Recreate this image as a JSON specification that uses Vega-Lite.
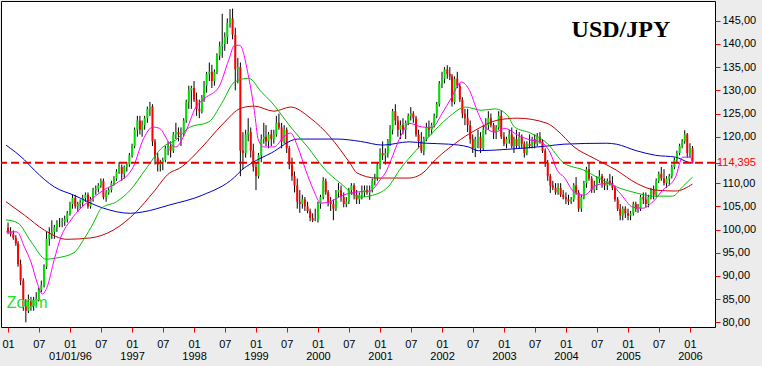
{
  "$schema": "https://vega.github.io/schema/vega-lite/v6.json",
  "width": 714,
  "height": 326,
  "autosize": {"type": "none"},
  "padding": {"left": 1, "top": 1, "right": 47, "bottom": 39},
  "background": "#ECECEC",
  "config": {
    "view": {"stroke": "#000000", "strokeWidth": 1, "fill": "#FFFFFF"},
    "axis": {"labelFont": "Liberation Sans", "labelFontSize": 11, "labelColor": "#000000", "grid": false, "domain": false, "labelOverlap": false, "labelBound": false, "labelFlush": false, "title": null}
  },
  "datasets": {
    "px": [
      {"t":"1995-01-01","o":100.4,"h":101.5,"l":99.0,"c":99.5},
      {"t":"1995-01-16","o":99.5,"h":100.5,"l":98.5,"c":99.0},
      {"t":"1995-02-01","o":99.0,"h":99.8,"l":97.8,"c":98.2},
      {"t":"1995-02-16","o":98.2,"h":98.8,"l":96.5,"c":97.0},
      {"t":"1995-03-01","o":97.0,"h":97.5,"l":92.0,"c":92.5},
      {"t":"1995-03-16","o":92.5,"h":93.5,"l":88.0,"c":89.0},
      {"t":"1995-04-01","o":89.0,"h":89.5,"l":82.5,"c":83.5},
      {"t":"1995-04-16","o":83.5,"h":85.0,"l":80.0,"c":82.5},
      {"t":"1995-05-01","o":82.5,"h":86.0,"l":82.0,"c":84.5},
      {"t":"1995-05-16","o":84.5,"h":85.5,"l":82.5,"c":83.5},
      {"t":"1995-06-01","o":83.5,"h":85.5,"l":82.5,"c":84.8},
      {"t":"1995-06-16","o":84.8,"h":86.5,"l":83.5,"c":85.0},
      {"t":"1995-07-01","o":85.0,"h":87.5,"l":84.5,"c":87.0},
      {"t":"1995-07-16","o":87.0,"h":89.0,"l":86.5,"c":88.0},
      {"t":"1995-08-01","o":88.0,"h":92.5,"l":87.5,"c":92.0},
      {"t":"1995-08-16","o":92.0,"h":99.5,"l":91.5,"c":98.0},
      {"t":"1995-09-01","o":98.0,"h":100.5,"l":96.5,"c":99.0},
      {"t":"1995-09-16","o":99.0,"h":102.0,"l":98.0,"c":99.5},
      {"t":"1995-10-01","o":99.5,"h":101.0,"l":98.0,"c":100.5},
      {"t":"1995-10-16","o":100.5,"h":102.0,"l":99.5,"c":101.5},
      {"t":"1995-11-01","o":101.5,"h":102.5,"l":100.5,"c":101.5},
      {"t":"1995-11-16","o":101.5,"h":102.5,"l":100.5,"c":101.8},
      {"t":"1995-12-01","o":101.8,"h":103.0,"l":100.8,"c":102.2},
      {"t":"1995-12-16","o":102.2,"h":104.0,"l":101.5,"c":103.5},
      {"t":"1996-01-01","o":103.5,"h":106.0,"l":103.0,"c":105.5},
      {"t":"1996-01-16","o":105.5,"h":107.5,"l":104.5,"c":106.8},
      {"t":"1996-02-01","o":106.8,"h":107.5,"l":104.5,"c":105.0},
      {"t":"1996-02-16","o":105.0,"h":106.0,"l":103.8,"c":105.5},
      {"t":"1996-03-01","o":105.5,"h":106.5,"l":104.5,"c":105.8},
      {"t":"1996-03-16","o":105.8,"h":107.5,"l":105.0,"c":106.8},
      {"t":"1996-04-01","o":106.8,"h":108.0,"l":106.0,"c":107.5},
      {"t":"1996-04-16","o":107.5,"h":108.0,"l":104.5,"c":105.0},
      {"t":"1996-05-01","o":105.0,"h":107.0,"l":104.5,"c":106.5},
      {"t":"1996-05-16","o":106.5,"h":109.0,"l":106.0,"c":108.5},
      {"t":"1996-06-01","o":108.5,"h":109.5,"l":107.5,"c":108.8},
      {"t":"1996-06-16","o":108.8,"h":110.0,"l":108.0,"c":109.5},
      {"t":"1996-07-01","o":109.5,"h":111.0,"l":109.0,"c":110.5},
      {"t":"1996-07-16","o":110.5,"h":111.0,"l":106.5,"c":107.0},
      {"t":"1996-08-01","o":107.0,"h":108.5,"l":106.0,"c":108.0},
      {"t":"1996-08-16","o":108.0,"h":109.0,"l":107.5,"c":108.5},
      {"t":"1996-09-01","o":108.5,"h":110.5,"l":108.0,"c":110.0},
      {"t":"1996-09-16","o":110.0,"h":111.5,"l":109.5,"c":111.0},
      {"t":"1996-10-01","o":111.0,"h":113.0,"l":110.5,"c":112.5},
      {"t":"1996-10-16","o":112.5,"h":114.5,"l":112.0,"c":113.5},
      {"t":"1996-11-01","o":113.5,"h":114.0,"l":110.5,"c":112.0},
      {"t":"1996-11-16","o":112.0,"h":113.8,"l":111.0,"c":113.5},
      {"t":"1996-12-01","o":113.5,"h":114.5,"l":112.5,"c":114.0},
      {"t":"1996-12-16","o":114.0,"h":116.5,"l":113.5,"c":116.0},
      {"t":"1997-01-01","o":116.0,"h":118.5,"l":115.5,"c":118.0},
      {"t":"1997-01-16","o":118.0,"h":122.0,"l":117.5,"c":121.5},
      {"t":"1997-02-01","o":121.5,"h":124.5,"l":120.0,"c":123.5},
      {"t":"1997-02-16","o":123.5,"h":124.5,"l":120.5,"c":121.5},
      {"t":"1997-03-01","o":121.5,"h":123.5,"l":120.0,"c":122.5},
      {"t":"1997-03-16","o":122.5,"h":124.5,"l":121.5,"c":124.0},
      {"t":"1997-04-01","o":124.0,"h":126.5,"l":123.0,"c":126.0},
      {"t":"1997-04-16","o":126.0,"h":127.5,"l":124.5,"c":126.5},
      {"t":"1997-05-01","o":126.5,"h":127.0,"l":118.0,"c":119.0},
      {"t":"1997-05-16","o":119.0,"h":119.5,"l":114.0,"c":115.5},
      {"t":"1997-06-01","o":115.5,"h":116.5,"l":112.5,"c":114.0},
      {"t":"1997-06-16","o":114.0,"h":115.0,"l":112.5,"c":114.5},
      {"t":"1997-07-01","o":114.5,"h":115.5,"l":112.8,"c":115.0},
      {"t":"1997-07-16","o":115.0,"h":118.0,"l":114.5,"c":117.5},
      {"t":"1997-08-01","o":117.5,"h":119.0,"l":116.0,"c":118.0},
      {"t":"1997-08-16","o":118.0,"h":119.0,"l":115.5,"c":117.0},
      {"t":"1997-09-01","o":117.0,"h":121.0,"l":116.5,"c":120.5},
      {"t":"1997-09-16","o":120.5,"h":123.0,"l":119.5,"c":121.0},
      {"t":"1997-10-01","o":121.0,"h":122.0,"l":119.0,"c":120.5},
      {"t":"1997-10-16","o":120.5,"h":122.0,"l":118.0,"c":120.5},
      {"t":"1997-11-01","o":120.5,"h":124.0,"l":120.0,"c":123.5},
      {"t":"1997-11-16","o":123.5,"h":128.0,"l":123.0,"c":127.5},
      {"t":"1997-12-01","o":127.5,"h":131.0,"l":126.0,"c":130.0},
      {"t":"1997-12-16","o":130.0,"h":131.0,"l":126.0,"c":130.5},
      {"t":"1998-01-01","o":130.5,"h":132.0,"l":127.5,"c":128.0},
      {"t":"1998-01-16","o":128.0,"h":129.5,"l":124.5,"c":126.0},
      {"t":"1998-02-01","o":126.0,"h":128.0,"l":124.0,"c":125.5},
      {"t":"1998-02-16","o":125.5,"h":129.0,"l":125.0,"c":128.5},
      {"t":"1998-03-01","o":128.5,"h":132.0,"l":127.5,"c":131.0},
      {"t":"1998-03-16","o":131.0,"h":134.0,"l":129.5,"c":133.5},
      {"t":"1998-04-01","o":133.5,"h":136.0,"l":132.0,"c":134.0},
      {"t":"1998-04-16","o":134.0,"h":135.5,"l":130.5,"c":132.0},
      {"t":"1998-05-01","o":132.0,"h":134.5,"l":131.0,"c":134.0},
      {"t":"1998-05-16","o":134.0,"h":138.0,"l":133.5,"c":137.5},
      {"t":"1998-06-01","o":137.5,"h":140.5,"l":136.5,"c":139.5},
      {"t":"1998-06-16","o":139.5,"h":146.5,"l":137.0,"c":140.0},
      {"t":"1998-07-01","o":140.0,"h":142.5,"l":138.5,"c":141.5},
      {"t":"1998-07-16","o":141.5,"h":145.5,"l":140.0,"c":144.5},
      {"t":"1998-08-01","o":144.5,"h":147.5,"l":143.5,"c":145.5},
      {"t":"1998-08-16","o":145.5,"h":147.6,"l":141.0,"c":142.0},
      {"t":"1998-09-01","o":142.0,"h":143.5,"l":130.0,"c":134.5},
      {"t":"1998-09-16","o":134.5,"h":137.0,"l":131.5,"c":135.0},
      {"t":"1998-10-01","o":135.0,"h":136.0,"l":111.5,"c":117.0},
      {"t":"1998-10-16","o":117.0,"h":121.0,"l":113.0,"c":116.5},
      {"t":"1998-11-01","o":116.5,"h":121.5,"l":115.5,"c":120.5},
      {"t":"1998-11-16","o":120.5,"h":124.0,"l":119.0,"c":121.0},
      {"t":"1998-12-01","o":121.0,"h":122.0,"l":115.5,"c":117.0},
      {"t":"1998-12-16","o":117.0,"h":118.5,"l":112.5,"c":113.5},
      {"t":"1999-01-01","o":113.5,"h":114.5,"l":108.5,"c":111.5},
      {"t":"1999-01-16","o":111.5,"h":116.5,"l":111.0,"c":116.0},
      {"t":"1999-02-01","o":116.0,"h":120.5,"l":114.5,"c":119.5},
      {"t":"1999-02-16","o":119.5,"h":123.0,"l":118.5,"c":120.0},
      {"t":"1999-03-01","o":120.0,"h":122.5,"l":118.0,"c":119.0},
      {"t":"1999-03-16","o":119.0,"h":121.0,"l":117.5,"c":120.5},
      {"t":"1999-04-01","o":120.5,"h":121.5,"l":118.0,"c":119.5},
      {"t":"1999-04-16","o":119.5,"h":121.5,"l":118.5,"c":120.5},
      {"t":"1999-05-01","o":120.5,"h":124.5,"l":120.0,"c":123.0},
      {"t":"1999-05-16","o":123.0,"h":125.0,"l":121.5,"c":122.0},
      {"t":"1999-06-01","o":122.0,"h":123.0,"l":117.5,"c":119.0},
      {"t":"1999-06-16","o":119.0,"h":122.5,"l":118.5,"c":121.5},
      {"t":"1999-07-01","o":121.5,"h":122.0,"l":116.5,"c":117.5},
      {"t":"1999-07-16","o":117.5,"h":118.0,"l":113.0,"c":114.0},
      {"t":"1999-08-01","o":114.0,"h":115.5,"l":110.5,"c":111.5},
      {"t":"1999-08-16","o":111.5,"h":112.5,"l":108.0,"c":109.5},
      {"t":"1999-09-01","o":109.5,"h":111.0,"l":104.5,"c":106.0},
      {"t":"1999-09-16","o":106.0,"h":108.5,"l":103.6,"c":105.5},
      {"t":"1999-10-01","o":105.5,"h":107.5,"l":104.5,"c":106.5},
      {"t":"1999-10-16","o":106.5,"h":107.0,"l":104.0,"c":105.0},
      {"t":"1999-11-01","o":105.0,"h":106.0,"l":103.5,"c":104.0},
      {"t":"1999-11-16","o":104.0,"h":104.5,"l":101.8,"c":102.5},
      {"t":"1999-12-01","o":102.5,"h":103.5,"l":101.6,"c":102.0},
      {"t":"1999-12-16","o":102.0,"h":104.5,"l":101.8,"c":102.2},
      {"t":"2000-01-01","o":102.2,"h":106.0,"l":101.5,"c":105.5},
      {"t":"2000-01-16","o":105.5,"h":107.5,"l":104.5,"c":107.0},
      {"t":"2000-02-01","o":107.0,"h":111.3,"l":106.5,"c":110.5},
      {"t":"2000-02-16","o":110.5,"h":111.0,"l":107.5,"c":108.0},
      {"t":"2000-03-01","o":108.0,"h":108.5,"l":105.0,"c":106.0},
      {"t":"2000-03-16","o":106.0,"h":107.0,"l":104.0,"c":105.5},
      {"t":"2000-04-01","o":105.5,"h":106.5,"l":102.0,"c":104.5},
      {"t":"2000-04-16","o":104.5,"h":108.5,"l":104.0,"c":108.0},
      {"t":"2000-05-01","o":108.0,"h":110.0,"l":107.0,"c":108.5},
      {"t":"2000-05-16","o":108.5,"h":109.5,"l":106.0,"c":107.0},
      {"t":"2000-06-01","o":107.0,"h":108.0,"l":104.8,"c":105.5},
      {"t":"2000-06-16","o":105.5,"h":107.0,"l":104.8,"c":106.0},
      {"t":"2000-07-01","o":106.0,"h":109.0,"l":105.5,"c":108.5},
      {"t":"2000-07-16","o":108.5,"h":110.0,"l":107.5,"c":109.5},
      {"t":"2000-08-01","o":109.5,"h":110.0,"l":106.5,"c":107.5},
      {"t":"2000-08-16","o":107.5,"h":108.5,"l":105.5,"c":106.5},
      {"t":"2000-09-01","o":106.5,"h":108.0,"l":105.5,"c":107.5},
      {"t":"2000-09-16","o":107.5,"h":109.5,"l":106.5,"c":108.0},
      {"t":"2000-10-01","o":108.0,"h":109.5,"l":107.0,"c":108.5},
      {"t":"2000-10-16","o":108.5,"h":109.5,"l":107.5,"c":108.0},
      {"t":"2000-11-01","o":108.0,"h":109.5,"l":106.4,"c":108.5},
      {"t":"2000-11-16","o":108.5,"h":111.0,"l":108.0,"c":110.5},
      {"t":"2000-12-01","o":110.5,"h":112.0,"l":109.5,"c":111.0},
      {"t":"2000-12-16","o":111.0,"h":114.5,"l":110.5,"c":114.0},
      {"t":"2001-01-01","o":114.0,"h":117.5,"l":113.0,"c":116.5},
      {"t":"2001-01-16","o":116.5,"h":119.0,"l":115.0,"c":116.0},
      {"t":"2001-02-01","o":116.0,"h":117.5,"l":114.0,"c":116.5},
      {"t":"2001-02-16","o":116.5,"h":119.5,"l":115.5,"c":119.0},
      {"t":"2001-03-01","o":119.0,"h":122.5,"l":118.0,"c":121.5},
      {"t":"2001-03-16","o":121.5,"h":126.0,"l":120.5,"c":125.5},
      {"t":"2001-04-01","o":125.5,"h":127.0,"l":122.5,"c":123.5},
      {"t":"2001-04-16","o":123.5,"h":124.5,"l":120.0,"c":121.5},
      {"t":"2001-05-01","o":121.5,"h":123.5,"l":119.5,"c":122.5},
      {"t":"2001-05-16","o":122.5,"h":124.0,"l":120.5,"c":121.5},
      {"t":"2001-06-01","o":121.5,"h":123.5,"l":119.5,"c":123.0},
      {"t":"2001-06-16","o":123.0,"h":125.0,"l":122.5,"c":124.5},
      {"t":"2001-07-01","o":124.5,"h":126.4,"l":123.5,"c":125.0},
      {"t":"2001-07-16","o":125.0,"h":125.5,"l":123.0,"c":124.0},
      {"t":"2001-08-01","o":124.0,"h":124.5,"l":120.0,"c":120.5},
      {"t":"2001-08-16","o":120.5,"h":121.5,"l":117.5,"c":119.0},
      {"t":"2001-09-01","o":119.0,"h":121.0,"l":116.5,"c":117.0},
      {"t":"2001-09-16","o":117.0,"h":120.0,"l":116.0,"c":119.5},
      {"t":"2001-10-01","o":119.5,"h":123.0,"l":119.0,"c":122.0},
      {"t":"2001-10-16","o":122.0,"h":123.5,"l":120.0,"c":121.5},
      {"t":"2001-11-01","o":121.5,"h":123.0,"l":120.5,"c":122.5},
      {"t":"2001-11-16","o":122.5,"h":125.0,"l":122.0,"c":124.5},
      {"t":"2001-12-01","o":124.5,"h":127.5,"l":124.0,"c":127.0},
      {"t":"2001-12-16","o":127.0,"h":132.0,"l":126.5,"c":131.5},
      {"t":"2002-01-01","o":131.5,"h":134.0,"l":130.5,"c":132.5},
      {"t":"2002-01-16","o":132.5,"h":135.0,"l":131.5,"c":134.5},
      {"t":"2002-02-01","o":134.5,"h":135.4,"l":132.5,"c":133.5},
      {"t":"2002-02-16","o":133.5,"h":135.0,"l":132.2,"c":133.0},
      {"t":"2002-03-01","o":133.0,"h":133.5,"l":126.5,"c":127.5},
      {"t":"2002-03-16","o":127.5,"h":133.0,"l":127.0,"c":132.5},
      {"t":"2002-04-01","o":132.5,"h":134.0,"l":130.5,"c":131.0},
      {"t":"2002-04-16","o":131.0,"h":131.5,"l":127.5,"c":128.0},
      {"t":"2002-05-01","o":128.0,"h":128.5,"l":124.0,"c":125.0},
      {"t":"2002-05-16","o":125.0,"h":126.0,"l":122.5,"c":124.0},
      {"t":"2002-06-01","o":124.0,"h":126.0,"l":121.0,"c":122.5},
      {"t":"2002-06-16","o":122.5,"h":123.5,"l":118.5,"c":119.5},
      {"t":"2002-07-01","o":119.5,"h":120.5,"l":116.5,"c":117.5},
      {"t":"2002-07-16","o":117.5,"h":120.0,"l":115.6,"c":119.5},
      {"t":"2002-08-01","o":119.5,"h":121.5,"l":117.5,"c":120.0},
      {"t":"2002-08-16","o":120.0,"h":121.0,"l":116.5,"c":117.5},
      {"t":"2002-09-01","o":117.5,"h":122.5,"l":117.0,"c":121.5},
      {"t":"2002-09-16","o":121.5,"h":124.0,"l":120.5,"c":122.5},
      {"t":"2002-10-01","o":122.5,"h":125.5,"l":121.5,"c":124.0},
      {"t":"2002-10-16","o":124.0,"h":125.0,"l":122.0,"c":122.5},
      {"t":"2002-11-01","o":122.5,"h":123.0,"l":119.5,"c":121.0},
      {"t":"2002-11-16","o":121.0,"h":122.5,"l":119.5,"c":122.0},
      {"t":"2002-12-01","o":122.0,"h":125.5,"l":121.5,"c":124.5},
      {"t":"2002-12-16","o":124.5,"h":125.7,"l":119.5,"c":120.0},
      {"t":"2003-01-01","o":120.0,"h":121.0,"l":118.0,"c":118.5},
      {"t":"2003-01-16","o":118.5,"h":120.0,"l":117.5,"c":119.5},
      {"t":"2003-02-01","o":119.5,"h":121.5,"l":118.5,"c":120.5},
      {"t":"2003-02-16","o":120.5,"h":122.0,"l":117.5,"c":118.0},
      {"t":"2003-03-01","o":118.0,"h":120.0,"l":116.5,"c":119.5},
      {"t":"2003-03-16","o":119.5,"h":121.5,"l":117.5,"c":118.0},
      {"t":"2003-04-01","o":118.0,"h":121.0,"l":117.5,"c":120.0},
      {"t":"2003-04-16","o":120.0,"h":120.5,"l":117.5,"c":118.5},
      {"t":"2003-05-01","o":118.5,"h":119.0,"l":115.5,"c":116.5},
      {"t":"2003-05-16","o":116.5,"h":119.0,"l":116.0,"c":118.5},
      {"t":"2003-06-01","o":118.5,"h":120.5,"l":117.5,"c":118.0},
      {"t":"2003-06-16","o":118.0,"h":120.0,"l":117.5,"c":119.5},
      {"t":"2003-07-01","o":119.5,"h":120.5,"l":117.5,"c":118.5},
      {"t":"2003-07-16","o":118.5,"h":120.8,"l":118.0,"c":120.0},
      {"t":"2003-08-01","o":120.0,"h":121.0,"l":118.5,"c":119.0},
      {"t":"2003-08-16","o":119.0,"h":119.5,"l":116.5,"c":117.0},
      {"t":"2003-09-01","o":117.0,"h":117.5,"l":113.5,"c":114.5},
      {"t":"2003-09-16","o":114.5,"h":115.0,"l":110.5,"c":111.5},
      {"t":"2003-10-01","o":111.5,"h":112.0,"l":107.9,"c":109.5},
      {"t":"2003-10-16","o":109.5,"h":110.5,"l":108.5,"c":109.0},
      {"t":"2003-11-01","o":109.0,"h":110.0,"l":107.5,"c":108.0},
      {"t":"2003-11-16","o":108.0,"h":110.0,"l":107.5,"c":109.0},
      {"t":"2003-12-01","o":109.0,"h":110.0,"l":107.0,"c":107.5},
      {"t":"2003-12-16","o":107.5,"h":108.5,"l":106.5,"c":107.0},
      {"t":"2004-01-01","o":107.0,"h":108.0,"l":105.5,"c":106.5},
      {"t":"2004-01-16","o":106.5,"h":107.5,"l":105.3,"c":106.0},
      {"t":"2004-02-01","o":106.0,"h":107.0,"l":105.5,"c":106.5},
      {"t":"2004-02-16","o":106.5,"h":110.0,"l":106.0,"c":109.5},
      {"t":"2004-03-01","o":109.5,"h":111.3,"l":107.5,"c":108.0},
      {"t":"2004-03-16","o":108.0,"h":108.5,"l":103.8,"c":104.5},
      {"t":"2004-04-01","o":104.5,"h":107.5,"l":103.8,"c":107.0},
      {"t":"2004-04-16","o":107.0,"h":110.5,"l":106.5,"c":110.0},
      {"t":"2004-05-01","o":110.0,"h":113.5,"l":109.0,"c":113.0},
      {"t":"2004-05-16","o":113.0,"h":114.5,"l":110.5,"c":111.0},
      {"t":"2004-06-01","o":111.0,"h":111.5,"l":107.9,"c":108.5},
      {"t":"2004-06-16","o":108.5,"h":110.5,"l":107.9,"c":109.5},
      {"t":"2004-07-01","o":109.5,"h":111.5,"l":108.5,"c":111.0},
      {"t":"2004-07-16","o":111.0,"h":112.8,"l":110.0,"c":111.5},
      {"t":"2004-08-01","o":111.5,"h":112.0,"l":109.0,"c":110.0},
      {"t":"2004-08-16","o":110.0,"h":111.0,"l":108.5,"c":109.5},
      {"t":"2004-09-01","o":109.5,"h":111.0,"l":108.5,"c":110.5},
      {"t":"2004-09-16","o":110.5,"h":112.0,"l":109.5,"c":110.0},
      {"t":"2004-10-01","o":110.0,"h":111.5,"l":108.5,"c":109.0},
      {"t":"2004-10-16","o":109.0,"h":109.5,"l":106.0,"c":106.5},
      {"t":"2004-11-01","o":106.5,"h":107.0,"l":104.0,"c":104.5},
      {"t":"2004-11-16","o":104.5,"h":105.5,"l":102.0,"c":103.0},
      {"t":"2004-12-01","o":103.0,"h":105.0,"l":102.0,"c":104.5},
      {"t":"2004-12-16","o":104.5,"h":105.0,"l":102.5,"c":103.5},
      {"t":"2005-01-01","o":103.5,"h":104.5,"l":102.0,"c":103.0},
      {"t":"2005-01-16","o":103.0,"h":104.0,"l":102.0,"c":103.5},
      {"t":"2005-02-01","o":103.5,"h":106.0,"l":103.0,"c":105.5},
      {"t":"2005-02-16","o":105.5,"h":106.0,"l":103.8,"c":104.5},
      {"t":"2005-03-01","o":104.5,"h":105.5,"l":103.6,"c":104.5},
      {"t":"2005-03-16","o":104.5,"h":107.5,"l":104.0,"c":107.0},
      {"t":"2005-04-01","o":107.0,"h":108.0,"l":105.5,"c":106.5},
      {"t":"2005-04-16","o":106.5,"h":108.0,"l":104.8,"c":105.5},
      {"t":"2005-05-01","o":105.5,"h":107.5,"l":104.8,"c":107.0},
      {"t":"2005-05-16","o":107.0,"h":109.0,"l":106.5,"c":108.5},
      {"t":"2005-06-01","o":108.5,"h":109.5,"l":106.5,"c":107.5},
      {"t":"2005-06-16","o":107.5,"h":111.0,"l":107.0,"c":110.5},
      {"t":"2005-07-01","o":110.5,"h":112.5,"l":110.0,"c":112.0},
      {"t":"2005-07-16","o":112.0,"h":113.5,"l":110.5,"c":111.0},
      {"t":"2005-08-01","o":111.0,"h":113.0,"l":109.5,"c":110.0},
      {"t":"2005-08-16","o":110.0,"h":111.5,"l":109.0,"c":111.0},
      {"t":"2005-09-01","o":111.0,"h":112.0,"l":109.5,"c":111.5},
      {"t":"2005-09-16","o":111.5,"h":114.0,"l":111.0,"c":113.5},
      {"t":"2005-10-01","o":113.5,"h":115.5,"l":113.0,"c":115.0},
      {"t":"2005-10-16","o":115.0,"h":117.0,"l":114.5,"c":116.5},
      {"t":"2005-11-01","o":116.5,"h":118.5,"l":116.0,"c":118.0},
      {"t":"2005-11-16","o":118.0,"h":119.5,"l":117.5,"c":119.0},
      {"t":"2005-12-01","o":119.0,"h":121.4,"l":118.5,"c":120.5},
      {"t":"2005-12-16","o":120.5,"h":120.8,"l":115.5,"c":116.5},
      {"t":"2006-01-01","o":116.5,"h":118.6,"l":115.5,"c":117.5},
      {"t":"2006-01-16","o":117.5,"h":118.0,"l":114.3,"c":114.4}
    ],
    "ma": [
      {"t":"1994-12-20","v":118.2,"s":"blue"},
      {"t":"1995-04-08","v":115.0,"s":"blue"},
      {"t":"1995-06-05","v":112.8,"s":"blue"},
      {"t":"1995-09-30","v":109.2,"s":"blue"},
      {"t":"1996-01-24","v":107.4,"s":"blue"},
      {"t":"1996-07-16","v":104.6,"s":"blue"},
      {"t":"1996-12-21","v":103.5,"s":"blue"},
      {"t":"1997-03-06","v":103.8,"s":"blue"},
      {"t":"1997-08-10","v":105.3,"s":"blue"},
      {"t":"1998-02-18","v":107.4,"s":"blue"},
      {"t":"1998-08-28","v":111.3,"s":"blue"},
      {"t":"1998-10-08","v":112.8,"s":"blue"},
      {"t":"1998-12-06","v":114.3,"s":"blue"},
      {"t":"1999-04-01","v":116.5,"s":"blue"},
      {"t":"1999-09-04","v":119.5,"s":"blue"},
      {"t":"2000-04-24","v":119.5,"s":"blue"},
      {"t":"2000-09-06","v":119.0,"s":"blue"},
      {"t":"2001-01-17","v":118.2,"s":"blue"},
      {"t":"2001-06-21","v":118.9,"s":"blue"},
      {"t":"2001-09-29","v":118.6,"s":"blue"},
      {"t":"2002-02-09","v":118.4,"s":"blue"},
      {"t":"2002-06-06","v":117.8,"s":"blue"},
      {"t":"2002-08-03","v":117.0,"s":"blue"},
      {"t":"2003-01-24","v":117.3,"s":"blue"},
      {"t":"2003-09-12","v":118.0,"s":"blue"},
      {"t":"2003-12-21","v":118.4,"s":"blue"},
      {"t":"2004-08-27","v":118.6,"s":"blue"},
      {"t":"2004-10-24","v":118.4,"s":"blue"},
      {"t":"2005-02-18","v":117.0,"s":"blue"},
      {"t":"2005-06-12","v":116.0,"s":"blue"},
      {"t":"2005-10-08","v":115.6,"s":"blue"},
      {"t":"2005-12-22","v":114.5,"s":"blue"},
      {"t":"2006-01-16","v":114.3,"s":"blue"},
      {"t":"1994-12-20","v":106.0,"s":"red"},
      {"t":"1995-04-08","v":103.1,"s":"red"},
      {"t":"1995-08-02","v":99.9,"s":"red"},
      {"t":"1995-12-14","v":97.9,"s":"red"},
      {"t":"1996-05-02","v":98.2,"s":"red"},
      {"t":"1996-09-13","v":99.9,"s":"red"},
      {"t":"1997-01-25","v":103.8,"s":"red"},
      {"t":"1997-05-03","v":107.9,"s":"red"},
      {"t":"1997-08-10","v":112.2,"s":"red"},
      {"t":"1997-10-07","v":113.2,"s":"red"},
      {"t":"1998-02-18","v":117.8,"s":"red"},
      {"t":"1998-06-13","v":122.5,"s":"red"},
      {"t":"1998-10-08","v":126.2,"s":"red"},
      {"t":"1998-12-22","v":126.6,"s":"red"},
      {"t":"1999-04-17","v":125.5,"s":"red"},
      {"t":"1999-07-24","v":126.4,"s":"red"},
      {"t":"1999-11-18","v":124.0,"s":"red"},
      {"t":"2000-03-12","v":120.0,"s":"red"},
      {"t":"2000-07-08","v":114.3,"s":"red"},
      {"t":"2000-08-18","v":112.2,"s":"red"},
      {"t":"2000-12-12","v":111.1,"s":"red"},
      {"t":"2001-06-21","v":111.1,"s":"red"},
      {"t":"2001-09-29","v":112.8,"s":"red"},
      {"t":"2001-10-15","v":113.5,"s":"red"},
      {"t":"2002-03-21","v":118.6,"s":"red"},
      {"t":"2002-07-16","v":121.4,"s":"red"},
      {"t":"2002-11-27","v":123.6,"s":"red"},
      {"t":"2003-03-21","v":124.0,"s":"red"},
      {"t":"2003-09-12","v":122.9,"s":"red"},
      {"t":"2003-11-10","v":121.4,"s":"red"},
      {"t":"2004-02-18","v":117.8,"s":"red"},
      {"t":"2004-06-12","v":115.4,"s":"red"},
      {"t":"2004-10-24","v":112.8,"s":"red"},
      {"t":"2005-02-18","v":110.0,"s":"red"},
      {"t":"2005-06-12","v":108.5,"s":"red"},
      {"t":"2005-10-08","v":108.3,"s":"red"},
      {"t":"2006-01-16","v":109.8,"s":"red"},
      {"t":"1994-12-20","v":102.1,"s":"green"},
      {"t":"1995-02-28","v":101.4,"s":"green"},
      {"t":"1995-05-18","v":97.3,"s":"green"},
      {"t":"1995-08-14","v":93.6,"s":"green"},
      {"t":"1995-10-17","v":93.9,"s":"green"},
      {"t":"1996-01-24","v":95.0,"s":"green"},
      {"t":"1996-03-21","v":97.8,"s":"green"},
      {"t":"1996-05-18","v":101.4,"s":"green"},
      {"t":"1996-07-04","v":104.6,"s":"green"},
      {"t":"1996-10-01","v":106.0,"s":"green"},
      {"t":"1996-12-21","v":108.5,"s":"green"},
      {"t":"1997-03-22","v":113.0,"s":"green"},
      {"t":"1997-07-01","v":117.8,"s":"green"},
      {"t":"1997-09-16","v":119.3,"s":"green"},
      {"t":"1997-12-04","v":122.0,"s":"green"},
      {"t":"1998-03-29","v":123.2,"s":"green"},
      {"t":"1998-06-13","v":127.2,"s":"green"},
      {"t":"1998-08-28","v":131.8,"s":"green"},
      {"t":"1998-11-19","v":132.6,"s":"green"},
      {"t":"1999-02-03","v":129.6,"s":"green"},
      {"t":"1999-04-01","v":127.5,"s":"green"},
      {"t":"1999-07-24","v":122.1,"s":"green"},
      {"t":"1999-11-01","v":117.8,"s":"green"},
      {"t":"2000-02-15","v":112.8,"s":"green"},
      {"t":"2000-05-12","v":110.0,"s":"green"},
      {"t":"2000-09-06","v":107.0,"s":"green"},
      {"t":"2000-11-19","v":107.4,"s":"green"},
      {"t":"2001-02-27","v":109.6,"s":"green"},
      {"t":"2001-04-25","v":112.8,"s":"green"},
      {"t":"2001-08-02","v":117.1,"s":"green"},
      {"t":"2001-10-15","v":120.0,"s":"green"},
      {"t":"2002-02-09","v":124.2,"s":"green"},
      {"t":"2002-05-19","v":126.4,"s":"green"},
      {"t":"2002-08-20","v":125.7,"s":"green"},
      {"t":"2002-11-09","v":126.0,"s":"green"},
      {"t":"2003-01-24","v":124.5,"s":"green"},
      {"t":"2003-03-04","v":122.1,"s":"green"},
      {"t":"2003-06-06","v":120.8,"s":"green"},
      {"t":"2003-09-12","v":118.6,"s":"green"},
      {"t":"2003-12-21","v":114.3,"s":"green"},
      {"t":"2004-04-16","v":112.8,"s":"green"},
      {"t":"2004-07-01","v":111.3,"s":"green"},
      {"t":"2004-10-24","v":109.2,"s":"green"},
      {"t":"2005-02-18","v":107.9,"s":"green"},
      {"t":"2005-05-28","v":107.2,"s":"green"},
      {"t":"2005-09-21","v":107.2,"s":"green"},
      {"t":"2005-11-18","v":109.2,"s":"green"},
      {"t":"2006-01-16","v":111.3,"s":"green"},
      {"t":"1994-12-20","v":99.5,"s":"magenta"},
      {"t":"1995-02-22","v":99.5,"s":"magenta"},
      {"t":"1995-04-08","v":96.2,"s":"magenta"},
      {"t":"1995-05-18","v":92.8,"s":"magenta"},
      {"t":"1995-06-22","v":88.5,"s":"magenta"},
      {"t":"1995-07-22","v":86.1,"s":"magenta"},
      {"t":"1995-08-19","v":87.6,"s":"magenta"},
      {"t":"1995-09-30","v":93.5,"s":"magenta"},
      {"t":"1995-11-09","v":98.4,"s":"magenta"},
      {"t":"1996-01-07","v":102.1,"s":"magenta"},
      {"t":"1996-03-04","v":104.6,"s":"magenta"},
      {"t":"1996-05-02","v":106.4,"s":"magenta"},
      {"t":"1996-07-16","v":108.5,"s":"magenta"},
      {"t":"1996-10-01","v":110.0,"s":"magenta"},
      {"t":"1997-01-08","v":113.5,"s":"magenta"},
      {"t":"1997-03-06","v":119.3,"s":"magenta"},
      {"t":"1997-05-03","v":122.1,"s":"magenta"},
      {"t":"1997-06-12","v":121.8,"s":"magenta"},
      {"t":"1997-08-10","v":118.6,"s":"magenta"},
      {"t":"1997-09-16","v":117.8,"s":"magenta"},
      {"t":"1997-11-12","v":121.0,"s":"magenta"},
      {"t":"1998-01-09","v":126.2,"s":"magenta"},
      {"t":"1998-03-06","v":128.3,"s":"magenta"},
      {"t":"1998-05-27","v":130.7,"s":"magenta"},
      {"t":"1998-07-24","v":136.5,"s":"magenta"},
      {"t":"1998-08-28","v":139.7,"s":"magenta"},
      {"t":"1998-09-27","v":139.7,"s":"magenta"},
      {"t":"1998-11-19","v":132.8,"s":"magenta"},
      {"t":"1998-12-22","v":125.7,"s":"magenta"},
      {"t":"1999-01-15","v":119.3,"s":"magenta"},
      {"t":"1999-02-18","v":117.8,"s":"magenta"},
      {"t":"1999-04-17","v":117.8,"s":"magenta"},
      {"t":"1999-06-15","v":120.0,"s":"magenta"},
      {"t":"1999-07-24","v":120.8,"s":"magenta"},
      {"t":"1999-09-04","v":117.8,"s":"magenta"},
      {"t":"1999-10-21","v":112.8,"s":"magenta"},
      {"t":"1999-12-06","v":108.5,"s":"magenta"},
      {"t":"2000-01-18","v":105.7,"s":"magenta"},
      {"t":"2000-03-12","v":106.0,"s":"magenta"},
      {"t":"2000-05-27","v":107.4,"s":"magenta"},
      {"t":"2000-08-18","v":108.1,"s":"magenta"},
      {"t":"2000-11-03","v":108.3,"s":"magenta"},
      {"t":"2001-01-01","v":110.7,"s":"magenta"},
      {"t":"2001-02-10","v":112.8,"s":"magenta"},
      {"t":"2001-02-27","v":114.3,"s":"magenta"},
      {"t":"2001-05-12","v":120.8,"s":"magenta"},
      {"t":"2001-06-21","v":122.9,"s":"magenta"},
      {"t":"2001-09-06","v":122.1,"s":"magenta"},
      {"t":"2001-11-03","v":122.0,"s":"magenta"},
      {"t":"2002-01-01","v":125.0,"s":"magenta"},
      {"t":"2002-02-27","v":128.5,"s":"magenta"},
      {"t":"2002-04-24","v":131.8,"s":"magenta"},
      {"t":"2002-06-06","v":130.4,"s":"magenta"},
      {"t":"2002-08-03","v":125.0,"s":"magenta"},
      {"t":"2002-09-12","v":122.1,"s":"magenta"},
      {"t":"2002-11-09","v":121.0,"s":"magenta"},
      {"t":"2003-01-06","v":121.8,"s":"magenta"},
      {"t":"2003-03-21","v":120.4,"s":"magenta"},
      {"t":"2003-06-06","v":119.3,"s":"magenta"},
      {"t":"2003-08-03","v":118.9,"s":"magenta"},
      {"t":"2003-10-01","v":116.5,"s":"magenta"},
      {"t":"2003-11-10","v":112.8,"s":"magenta"},
      {"t":"2003-12-21","v":111.3,"s":"magenta"},
      {"t":"2004-02-18","v":108.1,"s":"magenta"},
      {"t":"2004-04-16","v":107.4,"s":"magenta"},
      {"t":"2004-07-01","v":109.6,"s":"magenta"},
      {"t":"2004-09-15","v":110.0,"s":"magenta"},
      {"t":"2004-11-13","v":107.9,"s":"magenta"},
      {"t":"2005-02-01","v":104.8,"s":"magenta"},
      {"t":"2005-03-29","v":104.6,"s":"magenta"},
      {"t":"2005-05-28","v":106.0,"s":"magenta"},
      {"t":"2005-07-25","v":108.5,"s":"magenta"},
      {"t":"2005-10-08","v":111.3,"s":"magenta"},
      {"t":"2005-11-18","v":115.6,"s":"magenta"},
      {"t":"2006-01-04","v":115.6,"s":"magenta"},
      {"t":"2006-01-16","v":114.3,"s":"magenta"}
    ],
    "one": [{"k": 1}]
  },
  "layer": [
    {
      "data": {"name": "px"},
      "mark": {"type": "rule", "color": "#000000", "strokeWidth": 1},
      "encoding": {
        "x": {
          "field": "t", "type": "temporal", "title": null,
          "scale": {"type": "utc", "domain": [{"year": 1994, "month": 12, "date": 20, "utc": true}, {"year": 2006, "month": 4, "date": 29, "utc": true}]},
          "axis": {"orient": "bottom", "tickCount": {"interval": "month", "step": 6}, "tickColor": "#FF0000", "tickSize": 5, "tickWidth": 1, "labelPadding": 6, "labelLineHeight": 12.5, "labelFlush": false, "labelOverlap": false, "labelBound": false, "labelExpr": "utcFormat(datum.value,'%m')=='01' ? ['01', utcFormat(datum.value,'%Y')=='1996' ? '01/01/96' : (utcFormat(datum.value,'%Y')=='1995' ? '' : utcFormat(datum.value,'%Y'))] : utcFormat(datum.value,'%m')"}
        },
        "y": {
          "field": "l", "type": "quantitative", "title": null,
          "scale": {"domain": [79.0, 149.25], "nice": false, "zero": false},
          "axis": {"orient": "right", "values": [80, 85, 90, 95, 100, 105, 110, 114.395, 120, 125, 130, 135, 140, 145], "tickColor": "#FF0000", "tickSize": 5, "tickWidth": 1, "labelPadding": 2, "labelOverlap": false, "labelBound": false, "labelFlush": false, "labelExpr": "abs(datum.value - 114.395) < 0.01 ? '' : replace(format(datum.value, '.2f'), '.', ',')"}
        },
        "y2": {"field": "h"}
      }
    },
    {
      "data": {"name": "px"},
      "mark": {"type": "bar", "width": 2},
      "encoding": {
        "x": {
          "field": "t", "type": "temporal", "title": null,
          "axis": {"orient": "bottom", "tickCount": {"interval": "month", "step": 6}, "tickColor": "#FF0000", "tickSize": 5, "tickWidth": 1, "labelPadding": 6, "labelLineHeight": 12.5, "labelFlush": false, "labelOverlap": false, "labelBound": false, "labelExpr": "utcFormat(datum.value,'%m')=='01' ? ['01', utcFormat(datum.value,'%Y')=='1996' ? '01/01/96' : (utcFormat(datum.value,'%Y')=='1995' ? '' : utcFormat(datum.value,'%Y'))] : utcFormat(datum.value,'%m')"}
        },
        "y": {
          "field": "o", "type": "quantitative", "title": null,
          "axis": {"orient": "right", "values": [80, 85, 90, 95, 100, 105, 110, 114.395, 120, 125, 130, 135, 140, 145], "tickColor": "#FF0000", "tickSize": 5, "tickWidth": 1, "labelPadding": 2, "labelOverlap": false, "labelBound": false, "labelFlush": false, "labelExpr": "abs(datum.value - 114.395) < 0.01 ? '' : replace(format(datum.value, '.2f'), '.', ',')"}
        },
        "y2": {"field": "c"},
        "color": {"condition": {"test": "datum.c < datum.o", "value": "#FF0000"}, "value": "#00E000"}
      }
    },
    {
      "data": {"name": "ma"},
      "mark": {"type": "line", "strokeWidth": 1, "interpolate": "monotone"},
      "encoding": {
        "x": {
          "field": "t", "type": "temporal", "title": null,
          "axis": {"orient": "bottom", "tickCount": {"interval": "month", "step": 6}, "tickColor": "#FF0000", "tickSize": 5, "tickWidth": 1, "labelPadding": 6, "labelLineHeight": 12.5, "labelFlush": false, "labelOverlap": false, "labelBound": false, "labelExpr": "utcFormat(datum.value,'%m')=='01' ? ['01', utcFormat(datum.value,'%Y')=='1996' ? '01/01/96' : (utcFormat(datum.value,'%Y')=='1995' ? '' : utcFormat(datum.value,'%Y'))] : utcFormat(datum.value,'%m')"}
        },
        "y": {
          "field": "v", "type": "quantitative", "title": null,
          "axis": {"orient": "right", "values": [80, 85, 90, 95, 100, 105, 110, 114.395, 120, 125, 130, 135, 140, 145], "tickColor": "#FF0000", "tickSize": 5, "tickWidth": 1, "labelPadding": 2, "labelOverlap": false, "labelBound": false, "labelFlush": false, "labelExpr": "abs(datum.value - 114.395) < 0.01 ? '' : replace(format(datum.value, '.2f'), '.', ',')"}
        },
        "color": {
          "field": "s", "type": "nominal", "legend": null,
          "scale": {"domain": ["blue", "red", "green", "magenta"], "range": ["#0000C8", "#C80000", "#00C000", "#FF00FF"]}
        },
        "strokeWidth": {
          "field": "s", "type": "nominal", "legend": null,
          "scale": {"domain": ["blue", "red", "green", "magenta"], "range": [1.5, 1, 1, 1]}
        }
      }
    },
    {
      "data": {"name": "one"},
      "mark": {"type": "rule", "color": "#E00000", "strokeWidth": 2, "strokeDash": [8, 4]},
      "encoding": {
        "y": {
          "datum": 114.395, "type": "quantitative", "title": null,
          "axis": {"orient": "right", "values": [80, 85, 90, 95, 100, 105, 110, 114.395, 120, 125, 130, 135, 140, 145], "tickColor": "#FF0000", "tickSize": 5, "tickWidth": 1, "labelPadding": 2, "labelOverlap": false, "labelBound": false, "labelFlush": false, "labelExpr": "abs(datum.value - 114.395) < 0.01 ? '' : replace(format(datum.value, '.2f'), '.', ',')"}
        }
      }
    },
    {
      "data": {"name": "one"},
      "mark": {"type": "text", "text": "114,395", "font": "Liberation Sans", "fontSize": 11, "color": "#FF0000", "align": "left", "baseline": "middle", "dx": 7},
      "encoding": {
        "x": {
          "datum": {"year": 2006, "month": 4, "date": 29, "utc": true}, "type": "temporal", "title": null,
          "axis": {"orient": "bottom", "tickCount": {"interval": "month", "step": 6}, "tickColor": "#FF0000", "tickSize": 5, "tickWidth": 1, "labelPadding": 6, "labelLineHeight": 12.5, "labelFlush": false, "labelOverlap": false, "labelBound": false, "labelExpr": "utcFormat(datum.value,'%m')=='01' ? ['01', utcFormat(datum.value,'%Y')=='1996' ? '01/01/96' : (utcFormat(datum.value,'%Y')=='1995' ? '' : utcFormat(datum.value,'%Y'))] : utcFormat(datum.value,'%m')"}
        },
        "y": {
          "datum": 114.395, "type": "quantitative", "title": null,
          "axis": {"orient": "right", "values": [80, 85, 90, 95, 100, 105, 110, 114.395, 120, 125, 130, 135, 140, 145], "tickColor": "#FF0000", "tickSize": 5, "tickWidth": 1, "labelPadding": 2, "labelOverlap": false, "labelBound": false, "labelFlush": false, "labelExpr": "abs(datum.value - 114.395) < 0.01 ? '' : replace(format(datum.value, '.2f'), '.', ',')"}
        }
      }
    },
    {
      "data": {"name": "one"},
      "mark": {"type": "text", "text": "USD/JPY", "font": "Liberation Serif", "fontWeight": "bold", "fontSize": 24, "color": "#000000", "align": "center", "baseline": "alphabetic"},
      "encoding": {
        "x": {
          "datum": {"year": 2004, "month": 11, "date": 20, "utc": true}, "type": "temporal", "title": null,
          "axis": {"orient": "bottom", "tickCount": {"interval": "month", "step": 6}, "tickColor": "#FF0000", "tickSize": 5, "tickWidth": 1, "labelPadding": 6, "labelLineHeight": 12.5, "labelFlush": false, "labelOverlap": false, "labelBound": false, "labelExpr": "utcFormat(datum.value,'%m')=='01' ? ['01', utcFormat(datum.value,'%Y')=='1996' ? '01/01/96' : (utcFormat(datum.value,'%Y')=='1995' ? '' : utcFormat(datum.value,'%Y'))] : utcFormat(datum.value,'%m')"}
        },
        "y": {
          "datum": 141.4, "type": "quantitative", "title": null,
          "axis": {"orient": "right", "values": [80, 85, 90, 95, 100, 105, 110, 114.395, 120, 125, 130, 135, 140, 145], "tickColor": "#FF0000", "tickSize": 5, "tickWidth": 1, "labelPadding": 2, "labelOverlap": false, "labelBound": false, "labelFlush": false, "labelExpr": "abs(datum.value - 114.395) < 0.01 ? '' : replace(format(datum.value, '.2f'), '.', ',')"}
        }
      }
    },
    {
      "data": {"name": "one"},
      "mark": {"type": "text", "text": "Zoom", "font": "Liberation Sans", "fontSize": 16, "color": "#22E022", "align": "left", "baseline": "alphabetic"},
      "encoding": {
        "x": {
          "datum": {"year": 1994, "month": 12, "date": 24, "utc": true}, "type": "temporal", "title": null,
          "axis": {"orient": "bottom", "tickCount": {"interval": "month", "step": 6}, "tickColor": "#FF0000", "tickSize": 5, "tickWidth": 1, "labelPadding": 6, "labelLineHeight": 12.5, "labelFlush": false, "labelOverlap": false, "labelBound": false, "labelExpr": "utcFormat(datum.value,'%m')=='01' ? ['01', utcFormat(datum.value,'%Y')=='1996' ? '01/01/96' : (utcFormat(datum.value,'%Y')=='1995' ? '' : utcFormat(datum.value,'%Y'))] : utcFormat(datum.value,'%m')"}
        },
        "y": {
          "datum": 83.0, "type": "quantitative", "title": null,
          "axis": {"orient": "right", "values": [80, 85, 90, 95, 100, 105, 110, 114.395, 120, 125, 130, 135, 140, 145], "tickColor": "#FF0000", "tickSize": 5, "tickWidth": 1, "labelPadding": 2, "labelOverlap": false, "labelBound": false, "labelFlush": false, "labelExpr": "abs(datum.value - 114.395) < 0.01 ? '' : replace(format(datum.value, '.2f'), '.', ',')"}
        }
      }
    }
  ]
}
